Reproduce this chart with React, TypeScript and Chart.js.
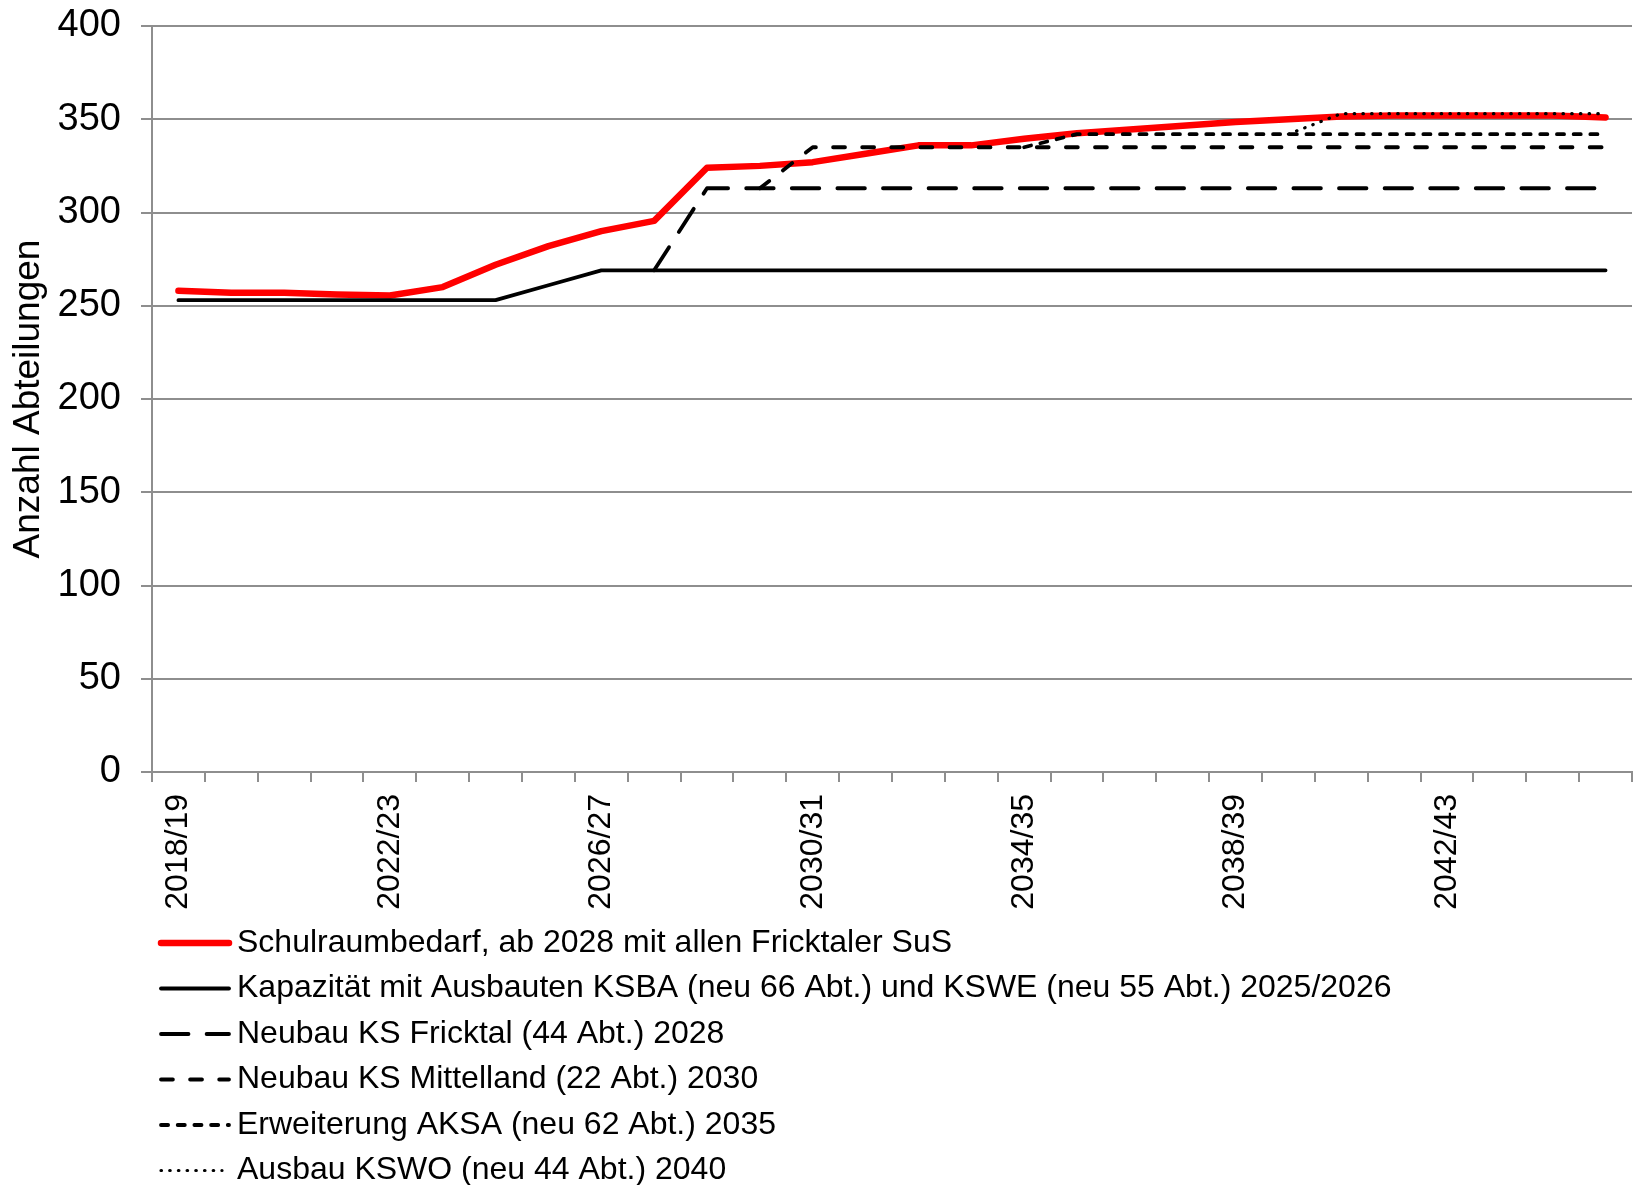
import React, { useEffect, useRef } from 'react';
import { Chart, registerables } from 'chart.js';

Chart.register(...registerables);

const FONT = '"Liberation Sans", Arial, Helvetica, sans-serif';

const categories = [
  '2018/19', '2019/20', '2020/21', '2021/22', '2022/23', '2023/24', '2024/25',
  '2025/26', '2026/27', '2027/28', '2028/29', '2029/30', '2030/31', '2031/32',
  '2032/33', '2033/34', '2034/35', '2035/36', '2036/37', '2037/38', '2038/39',
  '2039/40', '2040/41', '2041/42', '2042/43', '2043/44', '2044/45', '2045/46',
];

const bedarf = [
  258, 257, 257, 256, 255.5, 260, 272, 282, 290, 295.5,
  324, 325, 327, 331.5, 336, 336, 339.5, 342.5, 344.5, 346.5,
  348.5, 350, 351.5, 352, 352, 352, 352, 351,
];

const kapazitaet = [
  253, 253, 253, 253, 253, 253, 253, 261, 269, 269,
  269, 269, 269, 269, 269, 269, 269, 269, 269, 269,
  269, 269, 269, 269, 269, 269, 269, 269,
];

const fricktal = [
  null, null, null, null, null, null, null, null, null, 269,
  313, 313, 313, 313, 313, 313, 313, 313, 313, 313,
  313, 313, 313, 313, 313, 313, 313, 313,
];

const mittelland = [
  null, null, null, null, null, null, null, null, null, null,
  null, 313, 335, 335, 335, 335, 335, 335, 335, 335,
  335, 335, 335, 335, 335, 335, 335, 335,
];

const aksa = [
  null, null, null, null, null, null, null, null, null, null,
  null, null, null, null, null, null, 335, 342, 342, 342,
  342, 342, 342, 342, 342, 342, 342, 342,
];

const kswo = [
  null, null, null, null, null, null, null, null, null, null,
  null, null, null, null, null, null, null, null, null, null,
  null, 342, 353, 353, 353, 353, 353, 353,
];

const seriesLabels = [
  'Schulraumbedarf, ab 2028 mit allen Fricktaler SuS',
  'Kapazität mit Ausbauten KSBA (neu 66 Abt.) und KSWE (neu 55 Abt.) 2025/2026',
  'Neubau KS Fricktal (44 Abt.) 2028',
  'Neubau KS Mittelland (22 Abt.) 2030',
  'Erweiterung AKSA (neu 62 Abt.) 2035',
  'Ausbau KSWO (neu 44 Abt.) 2040',
];

const yTitle = 'Anzahl Abteilungen';
const yMin = 0;
const yMax = 400;
const yStep = 50;

const GRID = '#8e8e8e';

const legendPlugin = {
  id: 'listLegend',
  afterDraw(chart: any) {
    const ctx = chart.ctx;
    const x0 = 161;
    const x1 = 229;
    const tx = 237;
    const y0 = 943;
    const dy = 45.5;
    chart.data.datasets.forEach((ds: any, i: number) => {
      const y = y0 + i * dy;
      ctx.save();
      ctx.strokeStyle = ds.borderColor;
      ctx.lineWidth = ds.borderWidth;
      ctx.lineCap = ds.borderCapStyle || 'round';
      ctx.setLineDash(ds.borderDash || []);
      ctx.beginPath();
      ctx.moveTo(x0, y);
      ctx.lineTo(i === 5 ? 222 : x1, y);
      ctx.stroke();
      ctx.setLineDash([]);
      ctx.fillStyle = '#000';
      ctx.font = `32px ${FONT}`;
      ctx.textBaseline = 'middle';
      ctx.textAlign = 'left';
      ctx.fillText(ds.label, tx, y);
      ctx.restore();
    });
  },
};

export default function App() {
  const ref = useRef<HTMLCanvasElement | null>(null);

  useEffect(() => {
    document.body.style.margin = '0';
    const canvas = ref.current!;
    const mk = (label: string, data: any[], color: string, width: number, dash: number[], order: number) => ({
      label,
      data,
      borderColor: color,
      backgroundColor: color,
      borderWidth: width,
      borderDash: dash,
      borderCapStyle: 'round',
      borderJoinStyle: 'round',
      pointRadius: 0,
      pointHoverRadius: 0,
      tension: 0,
      fill: false,
      spanGaps: false,
      order,
    });
    const chart = new Chart(canvas, {
      type: 'line',
      data: {
        labels: categories,
        datasets: [
          mk(seriesLabels[0], bedarf, '#ff0000', 6.5, [], 1),
          mk(seriesLabels[1], kapazitaet, '#000000', 3.8, [], 0),
          mk(seriesLabels[2], fricktal, '#000000', 3.8, [27.5, 18.1], 0),
          mk(seriesLabels[3], mittelland, '#000000', 3.8, [11.9, 17.2], 0),
          mk(seriesLabels[4], aksa, '#000000', 3.8, [7.1, 9.6], 0),
          mk(seriesLabels[5], kswo, '#000000', 3.2, [0.5, 8.2], 0),
        ] as any,
      },
      options: {
        responsive: false,
        animation: false,
        devicePixelRatio: 1,
        layout: { padding: { top: 26, right: 2, left: 0, bottom: 0 } },
        plugins: {
          legend: { display: false },
          tooltip: { enabled: false },
        },
        scales: {
          x: {
            type: 'category',
            offset: true,
            grid: {
              offset: true,
              drawOnChartArea: false,
              drawTicks: true,
              tickLength: 10,
              color: GRID,
              lineWidth: 2,
            },
            border: { display: true, color: GRID, width: 2 },
            ticks: {
              autoSkip: false,
              maxRotation: 90,
              minRotation: 90,
              padding: 12,
              color: '#000',
              font: { family: FONT, size: 32 },
              callback: function (this: any, v: any, i: number) {
                return i % 4 === 0 ? this.getLabelForValue(v) : '';
              },
            },
            afterFit(scale: any) {
              scale.height = 413;
              scale.paddingLeft = 0;
              scale.paddingRight = 0;
            },
          },
          y: {
            min: yMin,
            max: yMax,
            ticks: {
              stepSize: yStep,
              padding: 20,
              color: '#000',
              font: { family: FONT, size: 38 },
            },
            grid: { color: GRID, lineWidth: 2, tickLength: 11 },
            border: { display: true, color: GRID, width: 2 },
            title: {
              display: true,
              text: yTitle,
              color: '#000',
              font: { family: FONT, size: 37 },
              padding: { top: 7, bottom: 0 },
            },
            afterFit(scale: any) {
              scale.width = 152;
              scale.paddingTop = 0;
              scale.paddingBottom = 0;
            },
          },
        },
      } as any,
      plugins: [legendPlugin],
    });
    return () => chart.destroy();
  }, []);

  return (
    <canvas
      ref={ref}
      width={1634}
      height={1185}
      style={{ display: 'block', width: '1634px', height: '1185px' }}
    />
  );
}
